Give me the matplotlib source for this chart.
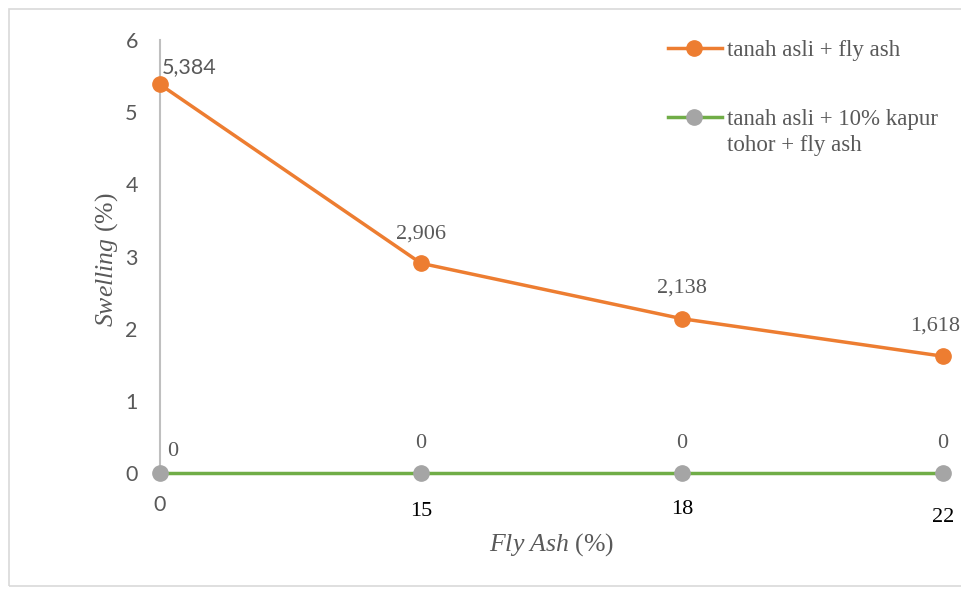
import numpy as np
import matplotlib.pyplot as plt
from matplotlib.patches import Rectangle
from matplotlib.lines import Line2D

plt.rcParams['mathtext.fontset'] = 'custom'
plt.rcParams['mathtext.rm'] = 'Liberation Serif'
plt.rcParams['mathtext.it'] = 'Liberation Serif:italic'

# data
fly_ash = ['0', '15', '18', '22']
swell_fa = [5.384, 2.906, 2.138, 1.618]
swell_lime_fa = [0, 0, 0, 0]
label_fa = ['5,384', '2,906', '2,138', '1,618']
label_lime = ['0', '0', '0', '0']
series_names = ['tanah asli + fly ash', 'tanah asli + 10% kapur\ntohor + fly ash']
y_ticks = [0, 1, 2, 3, 4, 5, 6]

orange = '#ED7D31'
green = '#70AD47'
grey = '#A5A5A5'
txt_grey = '#595959'
W, H = 961, 589

def fx(px):
    return px / W

def fy(px):
    return 1 - px / H

fig = plt.figure(figsize=(W/100, H/100), dpi=100)
fig.patches.append(Rectangle((fx(9), fy(586)), 1.0, (586-9)/H, transform=fig.transFigure,
                             facecolor='none', edgecolor='#D9D9D9', lw=1.2))

ax = fig.add_axes([fx(160), fy(473), (943-160)/W, (473-40)/H])
x = np.arange(len(fly_ash))

ax.plot(x, swell_fa, color=orange, lw=2.5, marker='o', ms=11, clip_on=False, zorder=3)
ax.plot(x, swell_lime_fa, color=green, lw=2.5, marker='o', ms=11, mfc=grey, mec=grey,
        clip_on=False, zorder=3)

ax.set_xlim(0, 3)
ax.set_ylim(0, 6)
ax.set_yticks(y_ticks)
ax.set_yticklabels([str(v) for v in y_ticks], fontfamily='Lato', fontsize=15.5, color=txt_grey)
ax.set_xticks(x)
ax.set_xticklabels(fly_ash)
ax.tick_params(axis='both', length=0)
ax.tick_params(axis='y', pad=16)
ax.tick_params(axis='x', pad=16)

xl = ax.get_xticklabels()
xl[0].set_fontfamily('Lato')
xl[0].set_fontsize(15.5)
xl[0].set_color(txt_grey)
for t in xl[1:]:
    t.set_fontfamily('Liberation Serif')
    t.set_fontsize(16)
    t.set_color('black')
xl[1].set_y(-0.016)
xl[2].set_y(-0.012)
xl[3].set_y(-0.03)

for s in ['top', 'right', 'bottom']:
    ax.spines[s].set_visible(False)
ax.spines['left'].set_color('#BFBFBF')
ax.spines['left'].set_linewidth(1.5)

# data labels
ax.annotate(label_fa[0], (x[0], swell_fa[0]), xytext=(2, 17), textcoords='offset pixels',
            ha='left', va='center', fontfamily='Lato', fontsize=15.5, color=txt_grey)
fa_dx = [0, 0, 0, -8]
fa_dy = [0, 29, 31, 30]
for i in range(1, 4):
    ax.annotate(label_fa[i], (x[i], swell_fa[i]), xytext=(fa_dx[i], fa_dy[i]),
                textcoords='offset pixels', ha='center', va='center',
                fontfamily='Liberation Serif', fontsize=16, color=txt_grey,
                annotation_clip=False)
ax.annotate(label_lime[0], (x[0], swell_lime_fa[0]), xytext=(13, 21), textcoords='offset pixels',
            ha='center', va='center', fontfamily='Liberation Serif', fontsize=16, color=txt_grey)
for i in range(1, 4):
    ax.annotate(label_lime[i], (x[i], swell_lime_fa[i]), xytext=(0, 29),
                textcoords='offset pixels', ha='center', va='center',
                fontfamily='Liberation Serif', fontsize=16, color=txt_grey)

ax.set_ylabel(r'$Swelling$ (%)', fontfamily='Liberation Serif', fontsize=18.5, color=txt_grey)
ax.yaxis.set_label_coords((120-160)/783, 0.492)
ax.set_xlabel(r'$Fly\ Ash$ (%)', fontfamily='Liberation Serif', fontsize=18.5, color=txt_grey)
ax.xaxis.set_label_coords(0.5, -(531-473)/433)

# legend
leg_rows = [48, 117]
leg_styles = [dict(color=orange, mfc=orange, mec=orange), dict(color=green, mfc=grey, mec=grey)]
for name, yy, st in zip(series_names, leg_rows, leg_styles):
    fig.add_artist(Line2D([fx(668), fx(694), fx(722)], [fy(yy)] * 3, transform=fig.transFigure,
                          lw=2.5, marker='o', ms=11, markevery=[1], **st))
    fig.text(fx(727), fy(yy - 8), name, ha='left', va='top', fontfamily='Liberation Serif',
             fontsize=16.5, color=txt_grey, linespacing=1.3)

fig.savefig('out.png', dpi=100)
